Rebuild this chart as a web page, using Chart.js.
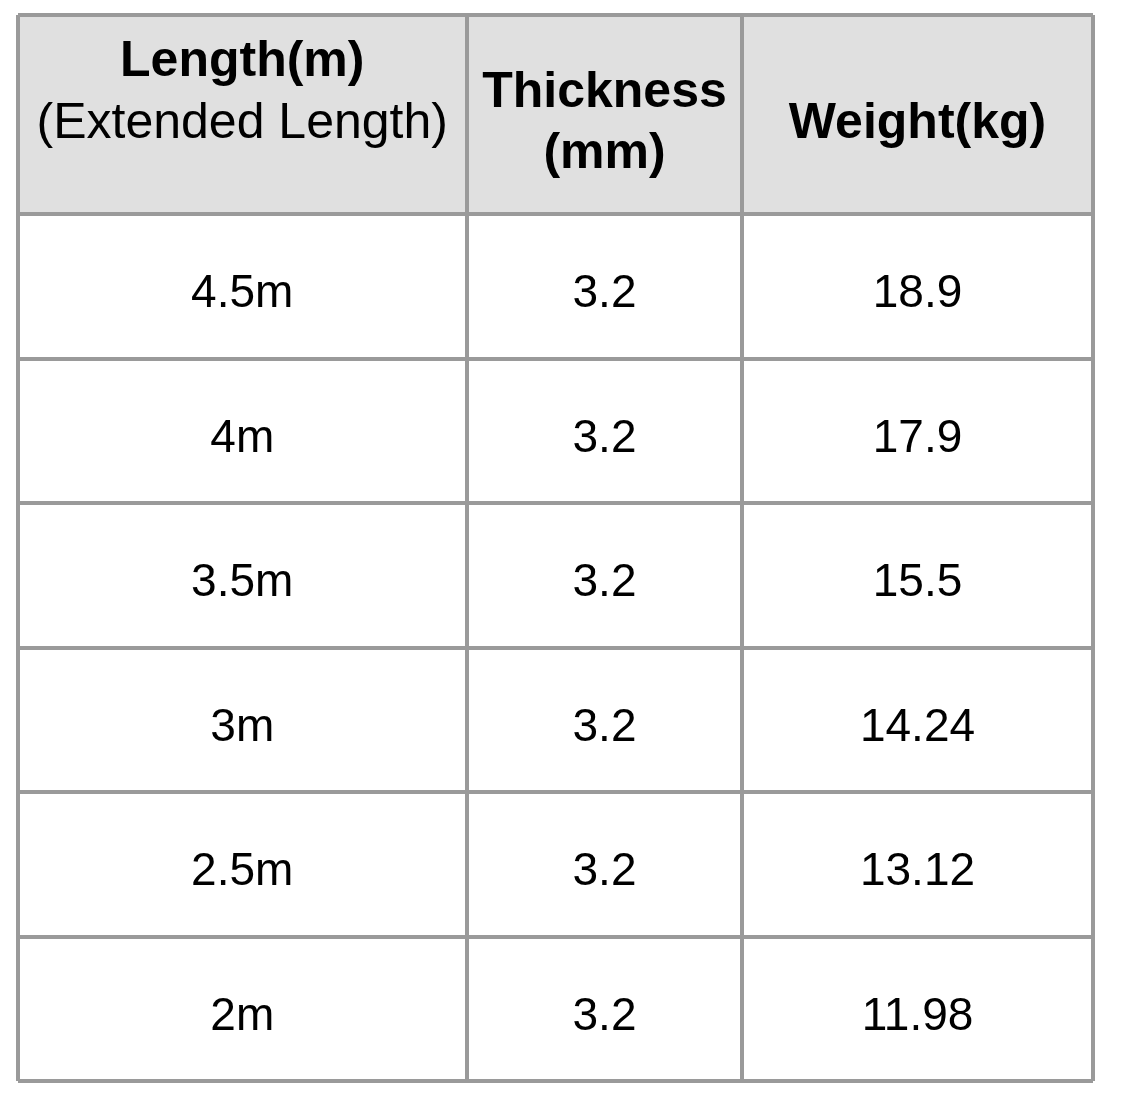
<!DOCTYPE html>
<html>
<head>
<title>Length / Thickness / Weight</title>
<script src="https://cdn.jsdelivr.net/npm/chart.js@4/dist/chart.umd.min.js"></script>
<style>
body{margin:0;background:#fff}
#wrap{position:relative;width:1136px;height:1108px}
</style>
</head>
<body>
<div id="wrap"><canvas id="tableChart"></canvas></div>
<script>
// header lines per column ('' = empty line, keeps the first column pushed up)
headLength=['Length(m)','(Extended Length)','']
headThickness=['Thickness','(mm)']
headWeight=['Weight(kg)']
// which header lines are bold
headBold=[[true,false,false],[true,true],[true]]

lengths=['4.5m','4m','3.5m','3m','2.5m','2m']
thickness=[3.2,3.2,3.2,3.2,3.2,3.2]
weight=[18.9,17.9,15.5,14.24,13.12,11.98]

// layout of the table (px)
colW=[449.5,275,351]
headH=199
rowH=144.5
gridColor='#9a9a9a'
headFill='#e0e0e0'
fontName='"Liberation Sans", Arial, sans-serif'

colEdges=[0]
for(i=0;i<colW.length;i++) colEdges.push(colEdges[i]+colW[i])
rowEdges=[0,headH]
for(i=0;i<lengths.length;i++) rowEdges.push(rowEdges[i+1]+rowH)

columns=[lengths,thickness,weight]
heads=[headLength,headThickness,headWeight]

tablePlugin={
  id:'tableCells',
  beforeDraw(chart){
    // grey header band, grid lines come on top of it
    var x=chart.scales.x, y=chart.scales.y, ctx=chart.ctx
    ctx.save()
    ctx.fillStyle=headFill
    var t=y.getPixelForValue(rowEdges[0]), b=y.getPixelForValue(rowEdges[1])
    ctx.fillRect(x.left,t,x.right-x.left,b-t)
    ctx.restore()
  },
  afterDraw(chart){
    var x=chart.scales.x, y=chart.scales.y, ctx=chart.ctx
    ctx.save()
    ctx.fillStyle='#000'
    ctx.textAlign='center'
    ctx.textBaseline='alphabetic'
    for(c=0;c<heads.length;c++){
      cx=x.getPixelForValue((colEdges[c]+colEdges[c+1])/2)
      cy=y.getPixelForValue((rowEdges[0]+rowEdges[1])/2)
      n=heads[c].length
      for(l=0;l<n;l++){
        ctx.font=(headBold[c][l]?'bold ':'')+'50px '+fontName
        ctx.fillText(heads[c][l],cx,cy+23+(l-(n-1)/2)*61.5)
      }
    }
    ctx.font='46px '+fontName
    for(c=0;c<columns.length;c++){
      cx=x.getPixelForValue((colEdges[c]+colEdges[c+1])/2)
      for(r=0;r<columns[c].length;r++){
        cy=y.getPixelForValue((rowEdges[r+1]+rowEdges[r+2])/2)
        ctx.fillText(String(columns[c][r]),cx,cy+21)
      }
    }
    ctx.restore()
  }
}

function edgeTicks(edges){
  return function(scale){ scale.ticks=edges.map(function(v){return {value:v}}) }
}

chart=new Chart(document.getElementById('tableChart'),{
  type:'scatter',
  data:{datasets:[{data:[],pointRadius:0}]},
  options:{
    responsive:true,
    maintainAspectRatio:false,
    animation:false,
    layout:{padding:{left:17.5,top:15,right:43,bottom:27}},
    plugins:{legend:{display:false},tooltip:{enabled:false}},
    scales:{
      x:{
        type:'linear',min:0,max:colEdges[colEdges.length-1],
        afterBuildTicks:edgeTicks(colEdges),
        ticks:{display:false},
        grid:{color:gridColor,lineWidth:4,drawTicks:false},
        border:{display:false}
      },
      y:{
        type:'linear',reverse:true,min:0,max:rowEdges[rowEdges.length-1],
        afterBuildTicks:edgeTicks(rowEdges),
        ticks:{display:false},
        grid:{color:gridColor,lineWidth:4,drawTicks:false},
        border:{display:false}
      }
    }
  },
  plugins:[tablePlugin]
})
</script>
</body>
</html>
